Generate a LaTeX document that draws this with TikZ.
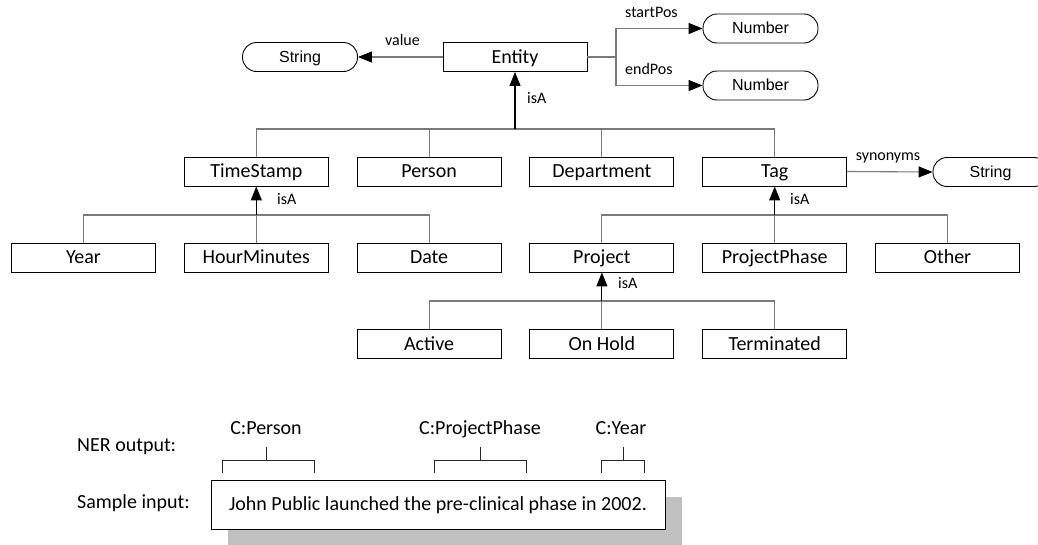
\documentclass[tikz,border=0pt]{standalone}
\usepackage{fontspec}
\setmainfont{Carlito}
\newfontfamily\arialfont{Liberation Sans}
\usetikzlibrary{arrows.meta}
\definecolor{linegray}{HTML}{7A7A7A}
\definecolor{shadowgray}{HTML}{C0C0C0}
\begin{document}
\begin{tikzpicture}[x=1pt,y=-1pt,
  cls/.style={draw=black, line width=0.9pt, minimum width=144pt, minimum height=29pt, inner sep=0pt, text height=13pt, text depth=1pt, font=\fontsize{20}{24}\selectfont},
  lit/.style={draw=black, line width=0.9pt, rounded corners=14pt, minimum width=115pt, minimum height=29pt, inner sep=0pt, text height=11.5pt, text depth=1pt, font=\arialfont\fontsize{16}{19}\selectfont},
  tree/.style={draw=linegray, line width=1.1pt},
  isa/.style={draw=black, line width=1.1pt, -{Triangle[length=14pt,width=11pt]}},
  rel/.style={draw=linegray, line width=1.1pt, -{Triangle[length=14pt,width=11pt,black]}},
  brk/.style={draw=black!85, line width=0.9pt},
  lbl/.style={font=\fontsize{16}{19}\selectfont, inner sep=0pt, text height=11pt, text depth=3.5pt},
  txt/.style={font=\fontsize{20}{24}\selectfont, inner sep=0pt, text height=13pt, text depth=1pt},
]
\useasboundingbox (0,0) rectangle (1038,544);
\clip (0,0) rectangle (1038,544);

% ---- root and its attributes
\node[cls] (entity) at (515,57) {Entity};
\node[lit] (str1) at (300,57) {String};
\node[lit] (num1) at (760.5,28.5) {Number};
\node[lit] (num2) at (760.5,85.5) {Number};

\draw[rel] (entity.west) -- (str1.east);
\node[lbl] at (402.5,42) {value};

\coordinate (fork) at (616,57);
\draw[tree] (entity.east) -- (fork);
\draw[rel] (fork) |- (num1.west);
\draw[rel] (fork) |- (num2.west);
\node[lbl, anchor=west] at (625,14) {startPos};
\node[lbl, anchor=west] at (625,71) {endPos};

% ---- first level
\node[cls] (ts)     at (256.3,171.5) {TimeStamp};
\node[cls] (person) at (429.1,171.5) {Person};
\node[cls] (dept)   at (601.9,171.5) {Department};
\node[cls] (tag)    at (774.7,171.5) {Tag};
\node[lit] (str2)   at (990.5,172) {String};

\draw[rel] (tag.east) -- (str2.west);
\node[lbl] at (888,157) {synonyms};

\coordinate (ebus) at (515,129);
\draw[tree] (ts.north) -- (ts.north |- ebus) -- (tag.north |- ebus) -- (tag.north);
\draw[tree] (person.north) -- (person.north |- ebus);
\draw[tree] (dept.north) -- (dept.north |- ebus);
\draw[isa] (ebus) -- (entity.south);
\node[lbl, anchor=west] at (527,100) {isA};

% ---- second level
\node[cls] (year)  at (83.5,257.5)  {Year};
\node[cls] (hm)    at (256.3,257.5) {HourMinutes};
\node[cls] (date)  at (429.1,257.5) {Date};
\node[cls] (proj)  at (601.9,257.5) {Project};
\node[cls] (phase) at (774.7,257.5) {ProjectPhase};
\node[cls] (other) at (947.5,257.5) {Other};

\coordinate (tbus) at (256.3,215);
\draw[tree] (year.north) -- (year.north |- tbus) -- (date.north |- tbus) -- (date.north);
\draw[tree] (hm.north) -- (tbus);
\draw[isa] (tbus) -- (ts.south);
\node[lbl, anchor=west] at (277,201) {isA};

\coordinate (gbus) at (774.7,215);
\draw[tree] (proj.north) -- (proj.north |- gbus) -- (other.north |- gbus) -- (other.north);
\draw[tree] (phase.north) -- (gbus);
\draw[isa] (gbus) -- (tag.south);
\node[lbl, anchor=west] at (790,201) {isA};

% ---- third level
\node[cls] (active) at (429.1,344) {Active};
\node[cls] (hold)   at (601.9,344) {On Hold};
\node[cls] (term)   at (774.7,344) {Terminated};

\coordinate (pbus) at (601.9,301);
\draw[tree] (active.north) -- (active.north |- pbus) -- (term.north |- pbus) -- (term.north);
\draw[tree] (hold.north) -- (pbus);
\draw[isa] (pbus) -- (proj.south);
\node[lbl, anchor=west] at (618,285) {isA};

% ---- sample annotation
\node[txt, anchor=west] (nerlbl) at (77,445) {NER output:};
\node[txt, anchor=west] (inlbl)  at (77,502) {Sample input:};

\node[fill=shadowgray, minimum width=454pt, minimum height=49pt, inner sep=0pt] (shadow) at (455,521.5) {};
\node[txt, draw=black, line width=0.9pt, fill=white, minimum width=454pt, minimum height=49pt] (sent) at (438,504.5)
  {John Public launched the pre-clinical phase in 2002.};

\node[txt] (cperson) at (266,428) {C:Person};
\node[txt] (cphase)  at (480,428) {C:ProjectPhase};
\node[txt] (cyear)   at (621,428) {C:Year};

\draw[brk] (222,473) -- (222,460) -- (314,460) -- (314,473);
\draw[brk] (266,460) -- (266,447);
\draw[brk] (434,473) -- (434,460) -- (526,460) -- (526,473);
\draw[brk] (480,460) -- (480,447);
\draw[brk] (601,473) -- (601,460) -- (644,460) -- (644,473);
\draw[brk] (623,460) -- (623,447);
\end{tikzpicture}
\end{document}
